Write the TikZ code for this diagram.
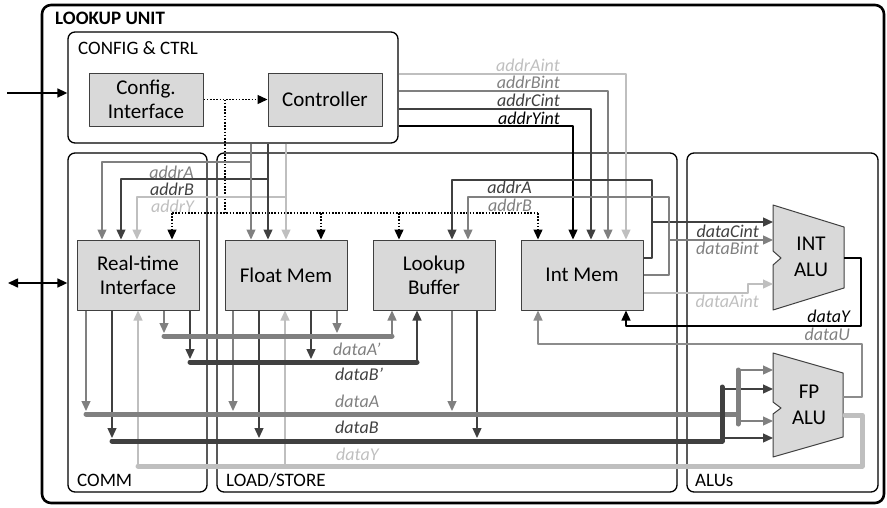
\documentclass[tikz,border=0pt]{standalone}
\usepackage{fontspec}
\setmainfont{Carlito}
\usetikzlibrary{arrows.meta}
\definecolor{lgray}{HTML}{BFBFBF}
\definecolor{mgray}{HTML}{808080}
\definecolor{ugray}{HTML}{8C8C8C}
\definecolor{dgray}{HTML}{404040}
\definecolor{boxfill}{HTML}{D9D9D9}
\tikzset{
  grp/.style={draw, rounded corners=7pt, line width=1.3pt, inner sep=0pt},
  grplbl/.style={anchor=west, inner sep=0pt, font=\fontsize{19}{22}\selectfont},
  blk/.style={draw=dgray, fill=boxfill, line width=1pt, minimum width=122pt,
    minimum height=70pt, align=center, inner sep=0pt, font=\fontsize{21}{24}\selectfont},
  alu/.style={draw=dgray, fill=boxfill, line width=1pt},
  alutxt/.style={align=center, inner sep=0pt, font=\fontsize{21}{26}\selectfont},
  lbl/.style={anchor=base east, inner sep=0pt, font=\fontsize{18}{21}\selectfont\itshape},
  buslbl/.style={lbl, anchor=base west},
  wire/.style={line width=1.3pt},
  arr/.style={wire, -{Triangle[length=10pt,width=9pt]}},
  biarr/.style={wire, {Triangle[length=10pt,width=9pt]}-{Triangle[length=10pt,width=9pt]}},
  dotwire/.style={line width=1.4pt, dash pattern=on 1.6pt off 1.6pt},
  dotarr/.style={dotwire, -{Triangle[length=10pt,width=9pt]}},
  bus/.style={line width=5pt, line cap=round}
}
\begin{document}
\begin{tikzpicture}[x=1pt,y=-1pt,line join=round]
  \useasboundingbox (0,0) rectangle (887,507);
  % groups
  \node[grp, line width=2.6pt, rounded corners=9pt, minimum width=842pt, minimum height=498pt] (unit) at (463,254) {};
  \node[grp, minimum width=330pt, minimum height=111pt] (cfg) at (233,87.5) {};
  \node[grp, minimum width=139pt, minimum height=339pt] (comm) at (137.5,322.5) {};
  \node[grp, minimum width=460pt, minimum height=339pt] (ls) at (447,322.5) {};
  \node[grp, minimum width=191pt, minimum height=339pt] (alus) at (782.5,322.5) {};
  \node[grplbl, font=\bfseries\fontsize{19}{22}\selectfont] at (55,18) {LOOKUP UNIT};
  \node[grplbl] at (78,48) {CONFIG \& CTRL};
  \node[grplbl] at (77,480) {COMM};
  \node[grplbl] at (226,480) {LOAD/STORE};
  \node[grplbl] at (695,480) {ALUs};

  % blocks
  \node[blk, minimum width=114pt, minimum height=53pt] (cfgif) at (146,99.5) {Config.\\Interface};
  \node[blk, minimum width=114pt, minimum height=53pt] (ctrl) at (325,99.5) {Controller};
  \node[blk] (rti) at (138,275) {Real-time\\Interface};
  \node[blk] (fmem) at (286,275) {Float Mem};
  \node[blk] (lbuf) at (434,275) {Lookup\\Buffer};
  \node[blk] (imem) at (582,275) {Int Mem};
  \draw[alu] (773,205) -- (844,227) -- (844,288) -- (773,310) -- (773,265) -- (781,258) -- (773,251) -- cycle;
  \node[alutxt] (intalu) at (811,257) {INT\\ALU};
  \draw[alu] (773,353) -- (843,373) -- (843,437) -- (773,457) -- (773,414) -- (781,408) -- (773,402) -- cycle;
  \node[alutxt] (fpalu) at (809,405) {FP\\ALU};

  % outside ports
  \coordinate (cfgin) at (7,93);
  \coordinate (rtiio) at (8,283);
  \draw[arr, line width=1.6pt] (cfgin) -- (cfgin -| cfg.west);
  \draw[biarr, line width=1.6pt] (rtiio) -- (rtiio -| comm.west);

  % configuration
  \draw[dotarr] (cfgif) -- (ctrl);
  \draw[dotwire] (225,99.5) -- (225,213);
  \draw[dotwire] (172,213) -- (538,213);
  \foreach \x/\n in {172/rti, 321/fmem, 399/lbuf, 538/imem}
    \draw[dotarr] (\x,213) -- (\n.north -| \x,0);

  % float addresses
  \draw[arr, lgray] (286,197) -| (rti.north -| 137,0);
  \draw[arr, dgray] (268,179) -| (rti.north -| 121,0);
  \draw[arr, mgray] (251,162) -| (rti.north -| 102,0);
  \draw[arr, lgray] (cfg.south -| 286,0) -- (fmem.north -| 286,0);
  \draw[arr, dgray] (cfg.south -| 268,0) -- (fmem.north -| 268,0);
  \draw[arr, mgray] (cfg.south -| 251,0) -- (fmem.north -| 251,0);
  \node[lbl, mgray] at (194,178) {addrA};
  \node[lbl, dgray] at (194,195) {addrB};
  \node[lbl, lgray] at (194,212) {addrY};

  % int addresses
  \draw[arr, lgray] (cfg.east |- 0,74) -| (imem.north -| 626,0);
  \draw[arr, mgray] (cfg.east |- 0,91) -| (imem.north -| 608,0);
  \draw[arr, dgray] (cfg.east |- 0,109) -| (imem.north -| 591,0);
  \draw[arr] (cfg.east |- 0,126) -| (imem.north -| 573,0);
  \node[lbl, lgray] at (560,71) {addrAint};
  \node[lbl, mgray] at (560,88) {addrBint};
  \node[lbl, dgray] at (560,106) {addrCint};
  \node[lbl] at (560,124) {addrYint};

  % int mem outputs
  \draw[arr, dgray] (imem.east |- 0,258) -| (652,180) -| (lbuf.north -| 452,0);
  \draw[arr, dgray] (652,222) -- (773,222);
  \draw[arr, mgray] (imem.east |- 0,275) -| (669,197) -| (lbuf.north -| 468,0);
  \draw[arr, mgray] (669,240) -- (773,240);
  \draw[arr, lgray] (imem.east |- 0,293) -| (748,284) -- (773,284);
  \node[lbl, dgray] at (532,193) {addrA};
  \node[lbl, mgray] at (532,211) {addrB};
  \node[lbl, dgray] at (759,237) {dataCint};
  \node[lbl, mgray] at (759,254) {dataBint};
  \node[lbl, lgray] at (759,307) {dataAint};

  % alu results
  \draw[arr] (844,258) -| (861,326) -| (imem.south -| 626,0);
  \draw[arr, ugray] (843,397) -| (862,344) -| (imem.south -| 538,0);
  \node[lbl] at (850,322) {dataY};
  \node[lbl, mgray] at (850,340) {dataU};

  % memory ports
  \foreach \x/\c/\y in {86/mgray/411, 112/dgray/438, 164/mgray/333, 190/dgray/359}
    \draw[arr, \c] (rti.south -| \x,0) -- (\x,\y);
  \foreach \x/\c/\y in {233/mgray/411, 259/dgray/438, 311/dgray/359, 337/mgray/333}
    \draw[arr, \c] (fmem.south -| \x,0) -- (\x,\y);
  \foreach \x/\c/\y in {452/mgray/411, 477/dgray/438}
    \draw[arr, \c] (lbuf.south -| \x,0) -- (\x,\y);
  \draw[arr, lgray] (138,466) -- (rti.south -| 138,0);
  \draw[arr, lgray] (285,466) -- (fmem.south -| 285,0);
  \draw[arr, mgray] (392,336) -- (lbuf.south -| 392,0);
  \draw[arr, dgray] (417,362) -- (lbuf.south -| 417,0);

  % fp alu inputs
  \draw[arr, mgray] (738,370) -- (773,370);
  \draw[arr, mgray] (738,421) -- (773,421);
  \draw[arr, dgray] (722,389) -- (773,389);
  \draw[arr, dgray] (722,438) -- (773,438);

  % buses
  \draw[bus, mgray] (164,336) -- (392,336);
  \draw[bus, dgray] (190,362) -- (417,362);
  \draw[bus, mgray] (86,414) -- (738,414);
  \draw[bus, mgray] (738,370) -- (738,424);
  \draw[bus, dgray] (112,441) -- (722,441) -- (722,387);
  \draw[bus, lgray] (845,415) -- (862,415) -- (862,466) -- (138,466);
  \node[buslbl, mgray] at (333,355) {dataA’};
  \node[buslbl, dgray] at (335,380) {dataB’};
  \node[buslbl, mgray] at (335,407) {dataA};
  \node[buslbl, dgray] at (335,433) {dataB};
  \node[buslbl, lgray] at (336,460) {dataY};
\end{tikzpicture}
\end{document}
